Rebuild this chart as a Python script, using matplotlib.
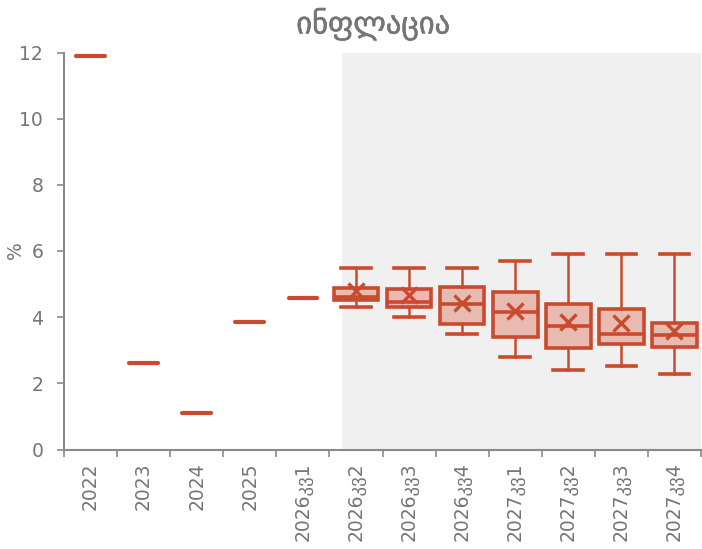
import matplotlib
matplotlib.use("Agg")
import matplotlib.pyplot as plt
import matplotlib.patheffects as pe
from matplotlib.patches import Rectangle

plt.rcParams['font.family'] = ['DejaVu Sans']

title = "ინფლაცია"
categories = ["2022", "2023", "2024", "2025", "2026კვ1",
              "2026კვ2", "2026კვ3", "2026კვ4",
              "2027კვ1", "2027კვ2", "2027კვ3", "2027კვ4"]

# Realised / point values (first five categories)
point_values = [11.9, 2.6, 1.1, 3.86, 4.57]

# Distribution of forecasts for the later quarters
whisker_low = [4.30, 4.00, 3.50, 2.80, 2.40, 2.53, 2.29]
q1          = [4.51, 4.31, 3.79, 3.41, 3.08, 3.18, 3.11]
median      = [4.62, 4.47, 4.41, 4.17, 3.74, 3.49, 3.45]
q3          = [4.89, 4.84, 4.92, 4.75, 4.39, 4.25, 3.82]
whisker_high = [5.50, 5.50, 5.50, 5.70, 5.90, 5.90, 5.90]
mean        = [4.78, 4.68, 4.44, 4.18, 3.85, 3.82, 3.58]

edge = "#C94A2E"
fill = "#E8BBB0"
grey = "#757575"

fig = plt.figure(figsize=(7.02, 5.49), dpi=100)
ax = fig.add_axes([64 / 702, 1 - 449.5 / 549, (701 - 64) / 702, (449.5 - 52.5) / 549])

n = len(categories)
n_pts = len(point_values)
ax.set_xlim(-0.5, n - 0.5)
ax.set_ylim(0, 12)

# shaded forecast region
shade_start = n_pts - 0.27
ax.add_patch(Rectangle((shade_start, 0), n - 0.5 - shade_start, 12,
                       facecolor="#F0F0F0", edgecolor="none", zorder=0))

# point values drawn as short horizontal dashes
ax.hlines(point_values, [i - 0.27 for i in range(n_pts)], [i + 0.27 for i in range(n_pts)],
          colors=edge, linewidth=3, capstyle="round", zorder=3)

stats = []
for i in range(len(median)):
    stats.append(dict(whislo=whisker_low[i], q1=q1[i], med=median[i], q3=q3[i],
                      whishi=whisker_high[i], mean=mean[i], fliers=[]))

positions = list(range(n_pts, n))
ax.bxp(stats, positions=positions, widths=0.84, patch_artist=True, showmeans=True,
       boxprops=dict(facecolor=fill, edgecolor=edge, linewidth=2.6),
       medianprops=dict(color=edge, linewidth=2.6),
       whiskerprops=dict(color=edge, linewidth=1.8),
       capprops=dict(color=edge, linewidth=2.6),
       capwidths=0.56,
       meanprops=dict(marker="x", markeredgecolor=edge, markersize=11, markeredgewidth=2.4),
       manage_ticks=False, zorder=3)

# axes styling
for s in ["top", "right"]:
    ax.spines[s].set_visible(False)
for s in ["left", "bottom"]:
    ax.spines[s].set_color("#8A8A8A")
    ax.spines[s].set_linewidth(1.5)

ax.set_yticks(range(0, 13, 2))
ax.tick_params(axis="y", colors="#8A8A8A", labelcolor=grey, labelsize=13.5,
               length=5, width=1.2, pad=10)

ax.set_xticks([i - 0.5 for i in range(n + 1)])
ax.set_xticklabels([])
ax.tick_params(axis="x", which="major", colors="#8A8A8A", length=5, width=1.2, direction="out")
ax.set_xticks(range(n), minor=True)
ax.set_xticklabels(categories, minor=True, rotation=90, fontsize=13.5, color=grey)
ax.tick_params(axis="x", which="minor", length=0, pad=9)

fig.text(16 / 702, 1 - 250 / 549, "%", rotation=90, ha="center", va="center",
         color=grey, fontsize=13.5)

fig.text(373 / 702, 1 - 24 / 549, title, ha="center", va="center",
         fontsize=22, color=grey,
         path_effects=[pe.withStroke(linewidth=0.4, foreground=grey)])

fig.savefig("out.png", dpi=100)
